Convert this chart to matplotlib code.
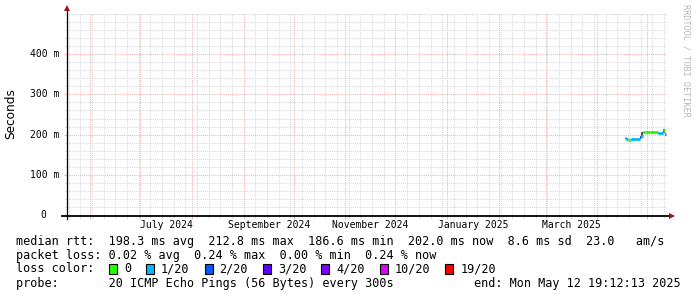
import matplotlib
matplotlib.use("Agg")
import matplotlib.pyplot as plt
import matplotlib.dates as mdates
import matplotlib.transforms as mtransforms
from matplotlib.collections import LineCollection
from matplotlib.patches import Rectangle
import numpy as np
import datetime as dt

# ---------------- data ----------------
sample_times = [
    "2025-04-17 12:00", "2025-04-18 12:00", "2025-04-19 12:00", "2025-04-20 12:00",
    "2025-04-21 12:00", "2025-04-22 12:00", "2025-04-23 12:00", "2025-04-24 12:00",
    "2025-04-25 12:00", "2025-04-26 12:00", "2025-04-27 12:00", "2025-04-28 12:00",
    "2025-04-29 12:00", "2025-04-30 12:00", "2025-05-01 12:00", "2025-05-02 12:00",
    "2025-05-03 12:00", "2025-05-04 12:00", "2025-05-05 12:00", "2025-05-06 12:00",
    "2025-05-07 12:00", "2025-05-08 12:00", "2025-05-09 12:00", "2025-05-10 12:00",
    "2025-05-11 12:00",
]
median_ms = [191.0, 190.5, 187.0, 186.6, 189.0, 188.5, 189.0, 188.5,
             189.0, 194.0, 198.0, 206.0, 206.5, 206.0, 206.0, 206.5,
             206.0, 206.0, 205.5, 206.0, 203.0, 203.5, 203.0, 212.8,
             202.0]
loss_of_20 = [1, 1, 0, 0, 1, 1, 1, 1,
              1, 2, 1, 0, 0, 0, 0, 0,
              0, 0, 0, 0, 1, 1, 1, 0,
              1]
smoke_low_ms = [190.0, 189.5, 186.0, 186.0, 188.0, 187.5, 188.0, 187.5,
                188.0, 189.0, 196.0, 205.0, 205.5, 205.0, 205.0, 205.5,
                205.0, 205.0, 204.5, 205.0, 202.0, 202.5, 202.0, 203.0,
                198.0]
smoke_high_ms = [192.0, 191.5, 188.0, 187.5, 190.0, 189.5, 190.0, 189.5,
                 190.0, 198.0, 206.0, 207.0, 207.5, 207.0, 207.0, 207.5,
                 207.0, 207.0, 206.5, 207.0, 204.0, 204.5, 204.0, 214.0,
                 203.0]

loss_levels = [0, 1, 2, 3, 4, 10, 19]
loss_labels = ["0", "1/20", "2/20", "3/20", "4/20", "10/20", "19/20"]
loss_colors = ["#26ff00", "#00b8ff", "#0059ff", "#5e00ff", "#7e00ff", "#dd00ff", "#ff0000"]

y_major_ticks = [0, 100, 200, 300, 400]
y_major_labels = ["0", "100 m", "200 m", "300 m", "400 m"]
x_label_months = ["2024-07", "2024-09", "2024-11", "2025-01", "2025-03"]
x_label_texts = ["July 2024", "September 2024", "November 2024", "January 2025", "March 2025"]

end_time = dt.datetime(2025, 5, 12, 19, 12, 13)
span_days = 360

stats_lines = [
    "median rtt:  198.3 ms avg  212.8 ms max  186.6 ms min  202.0 ms now  8.6 ms sd  23.0   am/s",
    "packet loss: 0.02 % avg  0.24 % max  0.00 % min  0.24 % now",
]
probe_line = "probe:       20 ICMP Echo Pings (56 Bytes) every 300s"
end_line = "end: Mon May 12 19:12:13 2025"

# ---------------- layout ----------------
W, H = 697, 297
fig = plt.figure(figsize=(W / 100, H / 100), dpi=100)
fig.patch.set_facecolor("white")

ax_left, ax_right = 66.6, 667.0
ax_top, ax_bottom = 13.5, 215.5
ax = fig.add_axes([ax_left / W, 1 - ax_bottom / H, (ax_right - ax_left) / W, (ax_bottom - ax_top) / H])
ax.set_facecolor("white")

start_time = end_time - dt.timedelta(days=span_days)
ax.set_xlim(mdates.date2num(start_time), mdates.date2num(end_time))
ax.set_ylim(0, 500)

minor_col = "#d9d9d9"
major_col = "#f2b4b4"

# grid
ax.xaxis.set_major_locator(mdates.MonthLocator())
ax.xaxis.set_minor_locator(mdates.WeekdayLocator(byweekday=mdates.SU))
ax.yaxis.set_major_locator(matplotlib.ticker.FixedLocator(y_major_ticks))
ax.yaxis.set_minor_locator(matplotlib.ticker.MultipleLocator(20))
ax.grid(which="minor", color=minor_col, linestyle=(0, (1, 1)), linewidth=0.75)
ax.grid(which="major", color=major_col, linestyle=(0, (1, 1)), linewidth=0.75)
ax.tick_params(which="both", labelbottom=False, labelleft=False, direction="out")
ax.tick_params(which="major", length=2.2, width=0.75, color=major_col)
ax.tick_params(which="minor", length=1.5, width=0.75, color=minor_col)
ax.set_axisbelow(True)
for s in ax.spines.values():
    s.set_visible(False)

# top grid line at 500
ax.axhline(500, color=minor_col, linestyle=(0, (1, 1)), linewidth=0.75, zorder=0.5)

# data
t = mdates.date2num([dt.datetime.strptime(s, "%Y-%m-%d %H:%M") for s in sample_times])
step = np.diff(t).mean()
t_end = np.append(t[1:], t[-1] + step)

def loss_color(l):
    idx = max(i for i, lv in enumerate(loss_levels) if lv <= l)
    return loss_colors[idx]

# smoke
for i in range(len(t)):
    ax.fill_between([t[i], t_end[i]], smoke_low_ms[i], smoke_high_ms[i],
                    color="#555555", linewidth=0, zorder=2)

segs, cols = [], []
for i in range(len(t)):
    segs.append([(t[i], median_ms[i]), (t_end[i], median_ms[i])])
    cols.append(loss_color(loss_of_20[i]))
lc = LineCollection(segs, colors=cols, linewidths=2.2, zorder=3, capstyle="butt")
ax.add_collection(lc)

# axes lines and arrows
axis_col = "#000000"
arrow_col = "#a01010"
ax.plot([0, 0], [-3 / 202, 1.02], transform=ax.transAxes, color=axis_col,
        linewidth=0.9, clip_on=False, zorder=4)
ax.plot([-5 / 600, 1.005], [0, 0], transform=ax.transAxes, color=axis_col,
        linewidth=1.3, clip_on=False, zorder=4)
ax.plot([0], [1.025], marker="^", markersize=4.5, color=arrow_col,
        transform=ax.transAxes, clip_on=False, zorder=5, markeredgewidth=0)
ax.plot([1.009], [0], marker=">", markersize=4.5, color=arrow_col,
        transform=ax.transAxes, clip_on=False, zorder=5, markeredgewidth=0)

# y tick labels
ytrans = mtransforms.blended_transform_factory(ax.transAxes, ax.transData)
mono = "DejaVu Sans Mono"
for v, lab in zip(y_major_ticks, y_major_labels):
    if v == 0:
        ax.text(-20.5 / 600, v, lab, transform=ytrans, ha="right", va="center",
                family=mono, fontsize=7, color="#000000")
    else:
        ax.text(-7 / 600, v, lab, transform=ytrans, ha="right", va="center",
                family=mono, fontsize=7, color="#000000")

# x tick labels at mid-month
xtrans = mtransforms.blended_transform_factory(ax.transData, ax.transAxes)
for m, lab in zip(x_label_months, x_label_texts):
    y0, mo = int(m[:4]), int(m[5:])
    ms = dt.datetime(y0, mo, 1)
    me = dt.datetime(y0 + (mo // 12), mo % 12 + 1, 1)
    mid = ms + (me - ms) / 2
    ax.text(mdates.date2num(mid), -10 / 202, lab, transform=xtrans, ha="center",
            va="center", family=mono, fontsize=7, color="#000000")

# y axis label
fig.text(11 / W, 1 - 114 / H, "Seconds", rotation=90, ha="center", va="center",
         family="DejaVu Sans", fontsize=8.7, color="#000000")

# watermark
fig.text(686 / W, 1 - 60 / H, "RRDTOOL / TOBI OETIKER", rotation=270, ha="center",
         va="center", family=mono, fontsize=6.1, color="#b8b8b8")

# legend / stats text
fs = 8.5
char_w = 7.1
fig.text(16 / W, 1 - 241 / H, stats_lines[0], ha="left", va="center", family=mono, fontsize=fs)
fig.text(16 / W, 1 - 255 / H, stats_lines[1], ha="left", va="center", family=mono, fontsize=fs)
fig.text(16 / W, 1 - 269 / H, "loss color:", ha="left", va="center", family=mono, fontsize=fs)
x = 109.0
for lab, col in zip(loss_labels, loss_colors):
    fig.patches.append(Rectangle((x / W, 1 - 274 / H), 8 / W, 10 / H, facecolor=col,
                                 edgecolor="#000000", linewidth=0.8,
                                 transform=fig.transFigure, figure=fig))
    fig.text((x + 15) / W, 1 - 269 / H, lab, ha="left", va="center", family=mono, fontsize=fs)
    x = x + 15 + len(lab) * char_w + 15
fig.text(16 / W, 1 - 283 / H, probe_line, ha="left", va="center", family=mono, fontsize=fs)
fig.text(681 / W, 1 - 283 / H, end_line, ha="right", va="center", family=mono, fontsize=fs)

fig.savefig("out.png", dpi=100, facecolor="white")
